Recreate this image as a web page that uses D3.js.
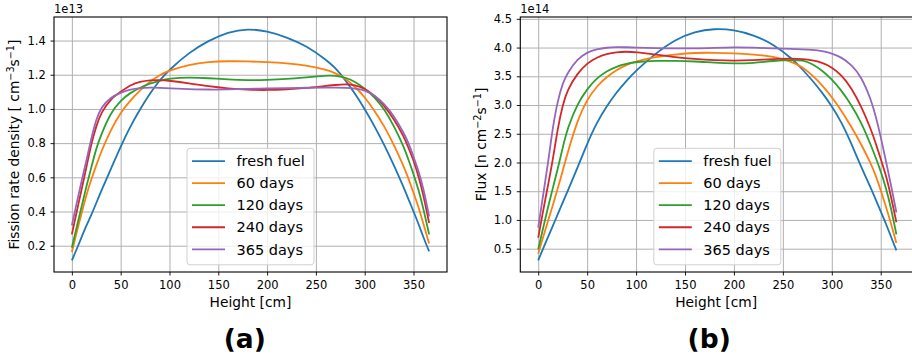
<!DOCTYPE html>
<html><head><meta charset="utf-8">
<script src="https://cdn.jsdelivr.net/npm/d3@7"></script>
<style>body{margin:0;background:#fff}svg{display:block}text{font-family:"DejaVu Sans",sans-serif}</style>
</head><body><div id="chart"></div>
<script>
// ---------- data ----------
const heights = [0,5,10,15,20,25,30,40,50,60,70,80,90,100,120,140,160,180,200,220,240,260,270,280,290,300,310,320,330,340,345,350,355,360,366];
const seriesNames = ["fresh fuel","60 days","120 days","240 days","365 days"];
const seriesColors = ["#1f77b4","#ff7f0e","#2ca02c","#d62728","#9467bd"];
const xTicks = [0,50,100,150,200,250,300,350];

// Fission rate density (x 1e13)
const fissionFresh = [0.114,0.18,0.25,0.32,0.38,0.45,0.52,0.65,0.78,0.90,1.00,1.09,1.17,1.23,1.33,1.40,1.45,1.47,1.455,1.42,1.37,1.29,1.24,1.17,1.09,1.00,0.90,0.79,0.67,0.54,0.47,0.40,0.33,0.25,0.167];
const fission60 = [0.163,0.28,0.39,0.50,0.59,0.67,0.75,0.88,0.98,1.05,1.11,1.16,1.20,1.225,1.26,1.275,1.28,1.278,1.274,1.268,1.255,1.23,1.21,1.18,1.13,1.07,0.99,0.90,0.79,0.665,0.59,0.51,0.43,0.33,0.213];
const fission120 = [0.188,0.31,0.43,0.55,0.66,0.77,0.85,0.98,1.05,1.095,1.125,1.15,1.165,1.178,1.185,1.18,1.172,1.168,1.17,1.175,1.185,1.195,1.195,1.185,1.16,1.12,1.07,1.0,0.9,0.78,0.70,0.62,0.53,0.42,0.266];
const fission240 = [0.266,0.40,0.53,0.66,0.80,0.90,0.98,1.06,1.10,1.14,1.16,1.168,1.17,1.165,1.15,1.132,1.12,1.112,1.11,1.114,1.122,1.135,1.14,1.145,1.14,1.12,1.08,1.02,0.94,0.84,0.77,0.70,0.61,0.50,0.333];
const fission365 = [0.319,0.45,0.58,0.70,0.83,0.94,1.01,1.07,1.095,1.115,1.123,1.125,1.124,1.12,1.116,1.113,1.114,1.117,1.12,1.122,1.124,1.125,1.125,1.123,1.12,1.11,1.08,1.03,0.96,0.86,0.80,0.72,0.64,0.54,0.371];
const fissionTicks = [0.2,0.4,0.6,0.8,1.0,1.2,1.4];

// Flux (x 1e14)
const fluxFresh = [0.296,0.50,0.70,0.90,1.10,1.30,1.50,1.90,2.33,2.70,2.98,3.22,3.42,3.60,3.90,4.14,4.28,4.33,4.31,4.22,4.06,3.80,3.62,3.43,3.22,2.98,2.70,2.33,1.92,1.55,1.35,1.15,0.95,0.73,0.47];
const flux60 = [0.41,0.70,0.98,1.26,1.55,1.85,2.17,2.73,3.10,3.33,3.49,3.61,3.70,3.76,3.84,3.88,3.91,3.91,3.90,3.88,3.85,3.75,3.66,3.52,3.35,3.14,2.90,2.62,2.32,1.98,1.77,1.52,1.25,0.97,0.60];
const flux120 = [0.488,0.86,1.22,1.56,1.89,2.26,2.60,3.02,3.28,3.47,3.59,3.67,3.72,3.75,3.77,3.77,3.76,3.735,3.72,3.73,3.77,3.785,3.78,3.72,3.60,3.45,3.25,3.0,2.7,2.3,2.08,1.85,1.58,1.25,0.75];
const flux240 = [0.69,1.16,1.6,2.05,2.6,3.0,3.27,3.55,3.73,3.83,3.89,3.92,3.93,3.92,3.88,3.83,3.80,3.78,3.77,3.78,3.80,3.81,3.80,3.78,3.74,3.66,3.52,3.30,2.98,2.58,2.33,2.06,1.80,1.45,0.96];
const flux365 = [0.866,1.43,1.98,2.63,3.08,3.38,3.56,3.8,3.92,3.97,4.0,4.01,4.005,4.0,3.99,3.985,3.985,3.995,4.005,4.0,3.985,3.975,3.97,3.96,3.94,3.9,3.83,3.7,3.5,3.1,2.8,2.45,2.05,1.65,1.13];
const fluxTicks = [0.5,1.0,1.5,2.0,2.5,3.0,3.5,4.0,4.5];

// ---------- drawing ----------
const W = 912, H = 358;
const svg = d3.select("#chart").append("svg").attr("width", W).attr("height", H);

function padded(ext){ const p=(ext[1]-ext[0])*0.05; return [ext[0]-p, ext[1]+p]; }

function panel(cfg){
  const {left,right,top,bottom} = cfg.box;
  const g = svg.append("g");
  const x = d3.scaleLinear().domain(padded(d3.extent(heights))).range([left,right]);
  const all = cfg.series.flat();
  const y = d3.scaleLinear().domain(padded(d3.extent(all))).range([bottom,top]);

  // grid
  g.append("g").attr("transform",`translate(0,${bottom})`)
    .call(d3.axisBottom(x).tickValues(xTicks).tickSize(-(bottom-top)).tickFormat(""))
    .call(s=>{s.select(".domain").remove(); s.selectAll("line").attr("stroke","#b0b0b0").attr("stroke-width",1);});
  g.append("g").attr("transform",`translate(${left},0)`)
    .call(d3.axisLeft(y).tickValues(cfg.yTicks).tickSize(-(right-left)).tickFormat(""))
    .call(s=>{s.select(".domain").remove(); s.selectAll("line").attr("stroke","#b0b0b0").attr("stroke-width",1);});

  // lines
  const line = d3.line().x((d,i)=>x(heights[i])).y(d=>y(d)).curve(d3.curveBasis);
  cfg.series.forEach((s,k)=>{
    g.append("path").datum(s).attr("d",line).attr("fill","none")
      .attr("stroke",seriesColors[k]).attr("stroke-width",1.8).attr("stroke-linejoin","round");
  });

  // spines
  g.append("rect").attr("x",left).attr("y",top).attr("width",right-left).attr("height",bottom-top)
    .attr("fill","none").attr("stroke","#000").attr("stroke-width",1.1);

  // axes ticks + labels
  g.append("g").attr("transform",`translate(0,${bottom})`)
    .call(d3.axisBottom(x).tickValues(xTicks).tickSize(3.5).tickPadding(5.8).tickFormat(d3.format("d")))
    .call(s=>{s.select(".domain").remove(); s.selectAll("line").attr("stroke","#000").attr("stroke-width",0.9);
      s.selectAll("text").attr("font-size",11.5).attr("fill","#000").attr("font-family","DejaVu Sans");});
  g.append("g").attr("transform",`translate(${left},0)`)
    .call(d3.axisLeft(y).tickValues(cfg.yTicks).tickSize(3.5).tickPadding(4.8).tickFormat(d3.format(".1f")))
    .call(s=>{s.select(".domain").remove(); s.selectAll("line").attr("stroke","#000").attr("stroke-width",0.9);
      s.selectAll("text").attr("font-size",11.5).attr("fill","#000").attr("font-family","DejaVu Sans");});

  // offset text
  g.append("text").attr("x",left).attr("y",top-4).attr("font-size",11.5).attr("fill","#000").text(cfg.offset);

  // x label
  g.append("text").attr("x",(left+Math.min(right,W))/2 + cfg.xLabelShift).attr("y",bottom+34.5)
    .attr("text-anchor","middle").attr("font-size",13.8).attr("fill","#000").text("Height [cm]");

  // y label
  const yl = g.append("text").attr("transform",`translate(${cfg.yLabelX},${(top+bottom)/2}) rotate(-90)`)
    .attr("text-anchor","middle").attr("font-size",13.8).attr("fill","#000");
  cfg.yLabel.forEach(p=>{
    const t = yl.append("tspan").text(p.t);
    if(p.sup){ t.attr("baseline-shift","super").attr("font-size","70%"); }
  });

  // legend
  const lw=127, lh=116.5;
  const lx=(left+right)/2-lw/2, ly=bottom-7.2-lh;
  const lg = g.append("g");
  lg.append("rect").attr("x",lx).attr("y",ly).attr("width",lw).attr("height",lh).attr("rx",3)
    .attr("fill","rgba(255,255,255,0.8)").attr("stroke","#d0d0d0").attr("stroke-width",1);
  seriesNames.forEach((n,k)=>{
    const cy = ly+12.8+k*22.05;
    lg.append("line").attr("x1",lx+5).attr("x2",lx+38).attr("y1",cy).attr("y2",cy)
      .attr("stroke",seriesColors[k]).attr("stroke-width",1.8);
    lg.append("text").attr("x",lx+49.5).attr("y",cy).attr("dy","0.36em").attr("font-size",14.5).attr("fill","#000").text(n);
  });

  // panel letter
  g.append("text").attr("x",cfg.letterX).attr("y",347.5).attr("text-anchor","middle")
    .attr("font-family","'Liberation Sans',Arial,sans-serif").attr("font-weight","bold").attr("font-size",26.5)
    .attr("fill","#000").text(cfg.letter);
}

panel({
  box:{left:54,right:447,top:17,bottom:272},
  series:[fissionFresh,fission60,fission120,fission240,fission365],
  yTicks:fissionTicks, offset:"1e13", xLabelShift:0, yLabelX:18.5,
  yLabel:[{t:"Fission rate density [ cm"},{t:"−3",sup:true},{t:"s"},{t:"−1",sup:true},{t:"]"}],
  letter:"(a)", letterX:244.7
});
panel({
  box:{left:520.3,right:914.3,top:17,bottom:272},
  series:[fluxFresh,flux60,flux120,flux240,flux365],
  yTicks:fluxTicks, offset:"1e14", xLabelShift:0, yLabelX:486,
  yLabel:[{t:"Flux [n cm"},{t:"−2",sup:true},{t:"s"},{t:"−1",sup:true},{t:"]"}],
  letter:"(b)", letterX:709.2
});
</script></body></html>
